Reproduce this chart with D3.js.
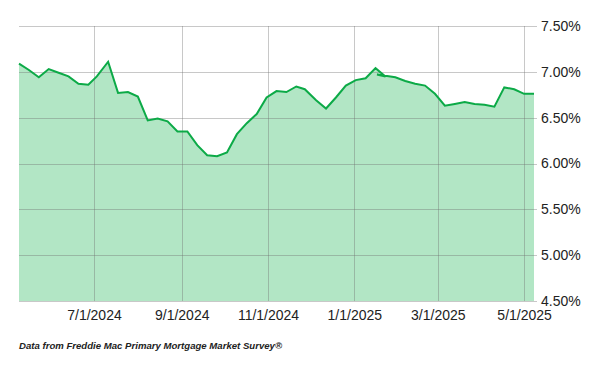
<!DOCTYPE html>
<html>
<head>
<meta charset="utf-8">
<script src="https://cdn.jsdelivr.net/npm/d3@7"></script>
<style>
  body { margin: 0; background: #fff; }
  svg text { font-family: "Liberation Sans", Arial, sans-serif; }
</style>
</head>
<body>
<div id="chart"></div>
<script>
// weekly 30-yr rates (source order kept)
const dates = [
  "2024-05-09", "2024-05-16", "2024-05-23", "2024-05-30", "2024-06-06", "2024-06-13",
  "2024-06-20", "2024-06-27", "2024-07-03", "2024-07-11", "2024-07-18", "2024-07-25",
  "2024-08-01", "2024-08-08", "2024-08-15", "2024-08-22", "2024-08-29", "2024-09-05",
  "2024-09-12", "2024-09-19", "2024-09-26", "2024-10-03", "2024-10-10", "2024-10-17",
  "2024-10-24", "2024-10-31", "2024-11-07", "2024-11-14", "2024-11-21", "2024-11-27",
  "2024-12-05", "2024-12-12", "2024-12-19", "2024-12-26", "2025-01-02", "2025-01-09",
  "2025-01-16", "2025-01-23", "2025-01-17", "2025-01-30", "2025-02-06", "2025-02-13",
  "2025-02-20", "2025-02-27", "2025-03-06", "2025-03-13", "2025-03-20", "2025-03-27",
  "2025-04-03", "2025-04-10", "2025-04-17", "2025-04-24", "2025-05-01", "2025-05-08"
];
const rates = [
  7.09, 7.02, 6.94, 7.03, 6.99, 6.95,
  6.87, 6.86, 6.95, 7.11, 6.77, 6.78,
  6.73, 6.47, 6.49, 6.46, 6.35, 6.35,
  6.20, 6.09, 6.08, 6.12, 6.32, 6.44,
  6.54, 6.72, 6.79, 6.78, 6.84, 6.81,
  6.69, 6.60, 6.72, 6.85, 6.91, 6.93,
  7.04, 6.95, 6.97, 6.94, 6.90, 6.87,
  6.85, 6.76, 6.63, 6.65, 6.67, 6.65,
  6.64, 6.62, 6.83, 6.81, 6.76, 6.76
];
const xTicks = ["2024-07-01", "2024-09-01", "2024-11-01", "2025-01-01", "2025-03-01", "2025-05-01"];
const yTicks = [4.5, 5.0, 5.5, 6.0, 6.5, 7.0, 7.5];
const footnote = "Data from Freddie Mac Primary Mortgage Market Survey®";

const width = 600, height = 371;
const margin = { top: 26, right: 66, bottom: 70, left: 19 };

const parse = d3.utcParse("%Y-%m-%d");
const data = dates.map((d, i) => ({ date: parse(d), value: rates[i] }));

const svg = d3.select("#chart").append("svg")
  .attr("width", width)
  .attr("height", height);

const x = d3.scaleUtc()
  .domain([parse(dates[0]), parse(dates[dates.length - 1])])
  .range([margin.left, width - margin.right]);

const y = d3.scaleLinear()
  .domain([4.5, 7.5])
  .range([height - margin.bottom, margin.top]);

// filled area
svg.append("path")
  .datum(data)
  .attr("fill", "#b2e6c5")
  .attr("d", d3.area().x(d => x(d.date)).y0(y(4.5)).y1(d => y(d.value)));

// grid on top of the fill, semi-transparent
const grid = svg.append("g").attr("stroke", "rgba(110,110,110,0.38)").attr("stroke-width", 1);
grid.selectAll(".h").data(yTicks).enter().append("line")
  .attr("x1", margin.left).attr("x2", width - margin.right + 3)
  .attr("y1", d => Math.round(y(d)) + 0.5).attr("y2", d => Math.round(y(d)) + 0.5);
grid.selectAll(".v").data(xTicks).enter().append("line")
  .attr("x1", d => Math.round(x(parse(d))) + 0.5).attr("x2", d => Math.round(x(parse(d))) + 0.5)
  .attr("y1", margin.top).attr("y2", y(4.5));

// rate line
svg.append("path")
  .datum(data)
  .attr("fill", "none")
  .attr("stroke", "#0caa47")
  .attr("stroke-width", 2)
  .attr("stroke-linejoin", "miter")
  .attr("d", d3.line().x(d => x(d.date)).y(d => y(d.value)));

// y labels on the right
const yAxis = d3.axisRight(y).tickValues(yTicks).tickSize(0).tickPadding(0)
  .tickFormat(d => d3.format(".2f")(d) + "%");
svg.append("g")
  .attr("transform", `translate(${width - margin.right + 7},0)`)
  .call(yAxis)
  .call(g => g.select(".domain").remove())
  .call(g => g.selectAll("text").attr("font-size", 14).attr("fill", "#222").attr("font-family", "'Liberation Sans', Arial, sans-serif"));

// x labels
const xAxis = d3.axisBottom(x).tickValues(xTicks.map(parse)).tickSize(0).tickPadding(0)
  .tickFormat(d3.utcFormat("%-m/%-d/%Y"));
svg.append("g")
  .attr("transform", `translate(0,${y(4.5) + 9})`)
  .call(xAxis)
  .call(g => g.select(".domain").remove())
  .call(g => g.selectAll("text").attr("font-size", 14).attr("fill", "#222").attr("font-family", "'Liberation Sans', Arial, sans-serif"));

// source note
svg.append("text")
  .attr("x", 19).attr("y", 349)
  .attr("font-size", 9.6)
  .attr("font-style", "italic")
  .attr("font-weight", "bold")
  .attr("fill", "#222")
  .text(footnote);
</script>
</body>
</html>
